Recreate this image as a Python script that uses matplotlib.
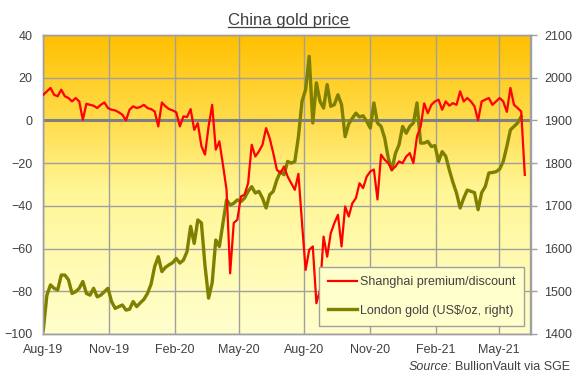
import numpy as np
import pandas as pd
import matplotlib
matplotlib.use("Agg")
import matplotlib.pyplot as plt
from matplotlib.colors import LinearSegmentedColormap
from matplotlib.lines import Line2D

plt.rcParams['font.family'] = ['Liberation Sans', 'DejaVu Sans']

# ---------------- data ----------------
start_date = '2019-08-01'
end_date = '2021-06-06'

premium = [12.0, 13.6, 15.2, 12.0, 11.3, 14.4, 11.3, 10.5, 8.9, 10.5,
           8.9, 0.3, 7.8, 7.3, 6.9, 5.8, 7.3, 8.4, 5.8, 5.0,
           4.7, 3.8, 2.7, 0.0, 5.0, 6.6, 5.8, 6.3, 7.3, 5.8,
           5.3, 4.2, -2.8, 8.4, 6.6, 5.3, 4.7, 3.8, -2.8, 1.9,
           1.6, 5.3, -4.4, -1.3, -12.0, -16.0, -2.8, 7.3, -13.7, -9.8,
           -20.8, -32.5, -71.6, -48.0, -46.5, -35.6, -34.8, -29.4, -11.4, -16.9,
           -14.5, -11.4, -3.6, -8.3, -15.3, -23.1, -24.7, -21.6, -26.3, -29.4,
           -32.5, -25.0, -48.0, -70.0, -60.6, -59.0, -85.6, -79.4, -54.4, -63.8,
           -52.8, -48.1, -44.2, -59.0, -40.3, -45.0, -38.8, -36.4, -29.4, -31.7,
           -26.3, -23.9, -23.0, -37.0, -16.0, -18.4, -20.0, -23.1, -21.6, -19.2,
           -20.0, -16.9, -15.3, -20.0, -7.5, -3.0, 8.0, 3.4, 7.3, 8.9,
           9.7, 5.0, 8.9, 6.9, 8.1, 7.3, 13.6, 8.9, 10.5, 8.9,
           6.6, 0.0, 8.9, 9.7, 10.5, 7.3, 8.9, 10.5, 8.9, 4.0,
           15.2, 7.3, 5.8, 4.2, -25.5]

london = [1409, 1491, 1515, 1507, 1503, 1538, 1538, 1527, 1495, 1499,
          1507, 1523, 1495, 1491, 1507, 1487, 1491, 1499, 1507, 1476,
          1460, 1464, 1468, 1456, 1458, 1476, 1464, 1473, 1481, 1495,
          1517, 1558, 1581, 1546, 1556, 1562, 1567, 1577, 1566, 1573,
          1593, 1652, 1612, 1667, 1660, 1560, 1484, 1520, 1620, 1605,
          1659, 1714, 1702, 1706, 1714, 1710, 1718, 1734, 1745, 1730,
          1734, 1718, 1695, 1726, 1734, 1761, 1780, 1773, 1804, 1800,
          1804, 1862, 1945, 1972, 2050, 1894, 1988, 1945, 1929, 1984,
          1933, 1937, 1960, 1937, 1862, 1892, 1905, 1917, 1908, 1911,
          1898, 1882, 1941, 1894, 1886, 1859, 1812, 1784, 1823, 1843,
          1886, 1870, 1886, 1894, 1941, 1847, 1847, 1851, 1839, 1841,
          1804, 1827, 1816, 1784, 1755, 1730, 1695, 1718, 1737, 1734,
          1731, 1691, 1731, 1745, 1777, 1778, 1780, 1786, 1804, 1839,
          1878, 1886, 1894, 1909]

x_ticks = ['2019-08-01', '2019-11-01', '2020-02-01', '2020-05-01',
           '2020-08-01', '2020-11-01', '2021-02-01', '2021-05-01']
x_labels = ['Aug-19', 'Nov-19', 'Feb-20', 'May-20',
            'Aug-20', 'Nov-20', 'Feb-21', 'May-21']
x_range = ['2019-08-01', '2021-06-14']
left_ticks = list(range(-100, 41, 20))
right_ticks = list(range(1400, 2101, 100))

series_labels = ['Shanghai premium/discount', 'London gold (US$/oz, right)']

dates = pd.date_range(start_date, end_date, periods=len(premium))

# ---------------- figure ----------------
W, H = 576, 378
fig = plt.figure(figsize=(W / 100, H / 100), dpi=100)
fig.patch.set_facecolor('white')
pos = [43.3 / W, 1 - 334 / H, (530.5 - 43.3) / W, (334 - 35) / H]

txt_col = '#404040'
grid_col = '#A0A0A0'

# background gradient
bg = fig.add_axes(pos, zorder=-1)
bg.axis('off')
stops = [(0.0, (1.0, 192 / 255, 0.0)),
         (0.30, (1.0, 222 / 255, 80 / 255)),
         (0.52, (1.0, 246 / 255, 150 / 255)),
         (1.0, (1.0, 1.0, 205 / 255))]
cmap = LinearSegmentedColormap.from_list('bg', stops)
bg.imshow(np.linspace(0, 1, 256).reshape(-1, 1), aspect='auto', cmap=cmap,
          extent=(0, 1, 0, 1), origin='upper', interpolation='bilinear')

ax = fig.add_axes(pos)          # London gold, right scale
ax.patch.set_visible(False)
ax2 = ax.twinx()                # Shanghai premium, left scale
ax2.patch.set_visible(False)

gold_line, = ax.plot(dates[:len(london)], london, color='#808000', lw=2.4,
                     solid_joinstyle='round', zorder=3)
red_line, = ax2.plot(dates, premium, color='#FF0000', lw=1.6,
                     solid_joinstyle='round', zorder=3)

ax.set_xlim(pd.Timestamp(x_range[0]), pd.Timestamp(x_range[1]))
ax.set_ylim(right_ticks[0], right_ticks[-1])
ax2.set_ylim(left_ticks[0], left_ticks[-1])
ax.set_yticks(right_ticks)
ax2.set_yticks(left_ticks)
ax.set_xticks(pd.to_datetime(x_ticks))
ax.set_xticklabels(x_labels)

ax.yaxis.set_ticks_position('right')
ax2.yaxis.set_ticks_position('left')

ax.grid(True, color=grid_col, lw=1)
ax.set_axisbelow(True)

# thicker zero line of the left scale
y0 = ax.transData.inverted().transform(ax2.transData.transform((0, 0)))[1]
ax.axhline(y0, color='#808080', lw=2.2, zorder=2)

for a in (ax, ax2):
    for s in a.spines.values():
        s.set_color(grid_col)
        s.set_linewidth(1)

ax.tick_params(axis='x', length=0, pad=7, labelsize=9, labelcolor=txt_col)
ax.tick_params(axis='y', right=True, left=False, labelright=True, labelleft=False,
               length=4, width=1, color=grid_col, pad=6, labelsize=9,
               labelcolor=txt_col)
ax2.tick_params(axis='y', left=True, right=False, labelleft=True, labelright=False,
                length=0, pad=8, labelsize=9, labelcolor=txt_col)

leg = ax2.legend([red_line, gold_line], series_labels, loc='lower right',
                 bbox_to_anchor=(1 - 6 / 487, 8 / 299), bbox_transform=ax2.transAxes,
                 borderaxespad=0, fontsize=9, frameon=True, fancybox=False,
                 facecolor='#FFFFCC', edgecolor=grid_col, framealpha=1,
                 handlelength=2.3, handletextpad=0.2, labelspacing=1.3,
                 borderpad=0.75)
leg.get_frame().set_linewidth(1)
for t in leg.get_texts():
    t.set_color(txt_col)

# title with underline
title = fig.text(0.5, 1 - 25 / H, 'China gold price', ha='center', va='baseline',
                 fontsize=12, color=txt_col)
src = fig.text(570 / W, 1 - 369.5 / H, 'BullionVault via SGE', ha='right',
               va='baseline', fontsize=9, color=txt_col)
renderer = fig.canvas.get_renderer()
bb = title.get_window_extent(renderer)
uy = (H - 25 - 2) / H
fig.add_artist(Line2D([bb.x0 / W, bb.x1 / W], [uy, uy], transform=fig.transFigure,
                      color=txt_col, lw=0.9))
sb = src.get_window_extent(renderer)
fig.text((sb.x0 - 3.5) / W, 1 - 369.5 / H, 'Source:', ha='right', va='baseline',
         fontsize=9, color=txt_col, style='italic')

fig.savefig('out.png', dpi=100)
